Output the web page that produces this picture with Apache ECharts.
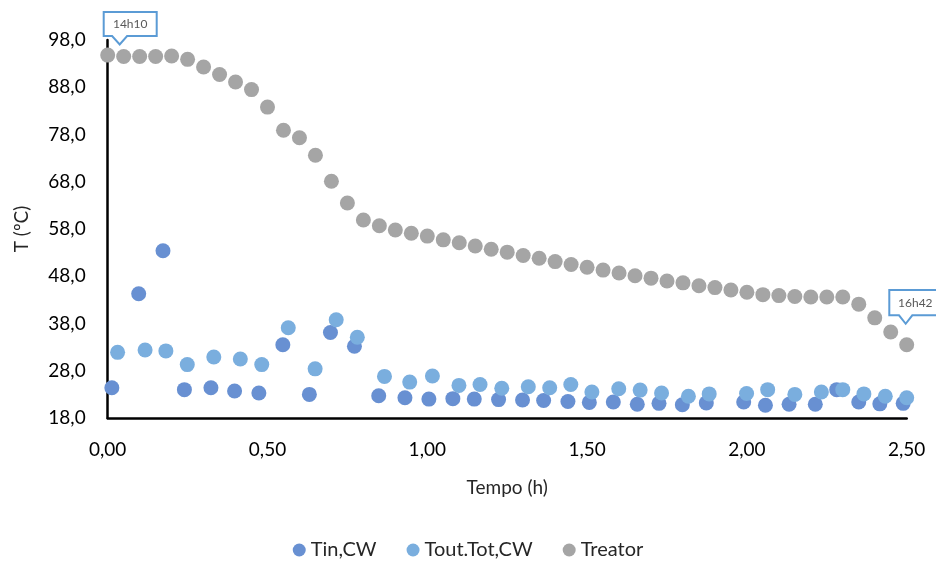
<!DOCTYPE html>
<html>
<head>
<meta charset="utf-8">
<script src="https://cdn.jsdelivr.net/npm/echarts@6/dist/echarts.min.js"></script>
<style>
html,body{margin:0;padding:0;background:#fff;}
#chart{width:936px;height:567px;}
</style>
</head>
<body>
<div id="chart"></div>
<script>
// Tempo (h) and temperatures (ºC)
var tinX = [0.013,0.097,0.173,0.240,0.323,0.397,0.473,0.548,0.631,0.697,0.772,0.848,0.930,1.005,1.080,1.147,1.223,1.298,1.364,1.440,1.507,1.582,1.657,1.725,1.798,1.873,1.990,2.058,2.132,2.214,2.281,2.350,2.416,2.489];
var tinY = [24.4,44.3,53.4,24.0,24.4,23.7,23.3,33.5,23.0,36.1,33.2,22.7,22.3,22.0,22.1,22.0,21.9,21.8,21.7,21.5,21.3,21.4,20.9,21.1,20.8,21.2,21.4,20.7,20.9,20.9,24.0,21.4,21.0,21.1];
var toutX = [0.031,0.117,0.182,0.249,0.332,0.415,0.482,0.565,0.649,0.715,0.781,0.866,0.945,1.016,1.099,1.165,1.233,1.316,1.383,1.449,1.515,1.599,1.666,1.733,1.817,1.882,1.999,2.065,2.150,2.233,2.300,2.366,2.433,2.500];
var toutY = [31.9,32.4,32.2,29.3,30.9,30.5,29.3,37.1,28.4,38.8,35.1,26.8,25.6,26.9,24.9,25.1,24.3,24.6,24.4,25.1,23.5,24.2,23.9,23.3,22.6,23.1,23.2,24.0,23.0,23.5,24.0,23.1,22.6,22.3];
var treatorX = [0.00,0.05,0.10,0.15,0.20,0.25,0.30,0.35,0.40,0.45,0.50,0.55,0.60,0.65,0.70,0.75,0.80,0.85,0.90,0.95,1.00,1.05,1.10,1.15,1.20,1.25,1.30,1.35,1.40,1.45,1.50,1.55,1.60,1.65,1.70,1.75,1.80,1.85,1.90,1.95,2.00,2.05,2.10,2.15,2.20,2.25,2.30,2.35,2.40,2.45,2.50];
var treatorY = [94.8,94.5,94.5,94.5,94.6,93.9,92.3,90.7,89.1,87.5,83.8,78.9,77.3,73.6,68.1,63.5,59.9,58.7,57.8,57.1,56.5,55.7,55.1,54.4,53.7,53.1,52.4,51.8,51.1,50.5,49.9,49.3,48.7,48.1,47.6,47.0,46.6,46.0,45.6,45.1,44.6,44.1,43.9,43.7,43.6,43.6,43.6,42.1,39.2,36.2,33.5];
var seriesNames = ['Tin,CW','Tout.Tot,CW','Treator'];
var callouts = [{idx:0, text:'14h10'}, {idx:50, text:'16h42'}];

function zip(xs, ys){ return xs.map(function(x,i){ return [x, ys[i]]; }); }
var FONT = 'Lato';
var chart = echarts.init(document.getElementById('chart'), null, {renderer:'canvas'});
var option = {
  animation:false,
  backgroundColor:'#fff',
  color:['#6890D2','#7AAEDE','#A5A5A5'],
  grid:{left:107.7, right:29.3, top:40, bottom:149},
  legend:{
    data:seriesNames, bottom:2, left:'center', icon:'circle', itemWidth:13, itemHeight:13, itemGap:30,
    textStyle:{fontFamily:FONT, fontSize:20, color:'#262626'}
  },
  xAxis:{
    type:'value', min:0, max:2.5, interval:0.5,
    name:'Tempo (h)', nameLocation:'middle', nameGap:60,
    nameTextStyle:{fontFamily:FONT, fontSize:19, color:'#262626'},
    axisLine:{show:true, onZero:false, lineStyle:{color:'#000', width:2.5}},
    axisTick:{show:false}, splitLine:{show:false},
    axisLabel:{fontFamily:FONT, fontSize:19, color:'#000', margin:22,
      formatter:function(v){ return v.toFixed(2).replace('.',','); }}
  },
  yAxis:{
    type:'value', min:18, max:98, interval:10,
    name:'T (ºC)', nameLocation:'middle', nameGap:76,
    nameTextStyle:{fontFamily:FONT, fontSize:19, color:'#262626'},
    axisLine:{show:true, onZero:false, lineStyle:{color:'#000', width:2.5}},
    axisTick:{show:false}, splitLine:{show:false},
    axisLabel:{fontFamily:FONT, fontSize:19, color:'#000', margin:22,
      formatter:function(v){ return v.toFixed(1).replace('.',','); }}
  },
  series:[
    {name:seriesNames[0], type:'scatter', symbolSize:15, data:zip(tinX,tinY), itemStyle:{opacity:1}},
    {name:seriesNames[1], type:'scatter', symbolSize:15, data:zip(toutX,toutY), itemStyle:{opacity:1}},
    {name:seriesNames[2], type:'scatter', symbolSize:15, data:zip(treatorX,treatorY), itemStyle:{opacity:1}}
  ]
};
chart.setOption(option);

// Callout boxes anchored on data points (offsets in px relative to the point)
var shapes = [
  {box:[-4,-43,53,24], base:[4.4,19.4], tip:[12,-10.7]},
  {box:[-17.4,-54.7,52,25.3], base:[-7.7,5.6], tip:[-1,-21]}
];
var graphics = [];
callouts.forEach(function(c, i){
  var p = chart.convertToPixel({seriesIndex:2}, [treatorX[c.idx], treatorY[c.idx]]);
  var s = shapes[i];
  var L = p[0]+s.box[0], T = p[1]+s.box[1], R = L+s.box[2], B = T+s.box[3];
  var pts = [[L,T],[R,T],[R,B],[p[0]+s.base[1],B],[p[0]+s.tip[0],p[1]+s.tip[1]],[p[0]+s.base[0],B],[L,B]];
  graphics.push({type:'polygon', shape:{points:pts}, style:{fill:'#fff', stroke:'#5B9BD5', lineWidth:2}, z:100});
  graphics.push({type:'text', x:(L+R)/2, y:(T+B)/2, z:101,
    style:{text:c.text, fill:'#595959', font:'12px '+FONT, textAlign:'center', textVerticalAlign:'middle'}});
});
chart.setOption({graphic:graphics});
</script>
</body>
</html>
